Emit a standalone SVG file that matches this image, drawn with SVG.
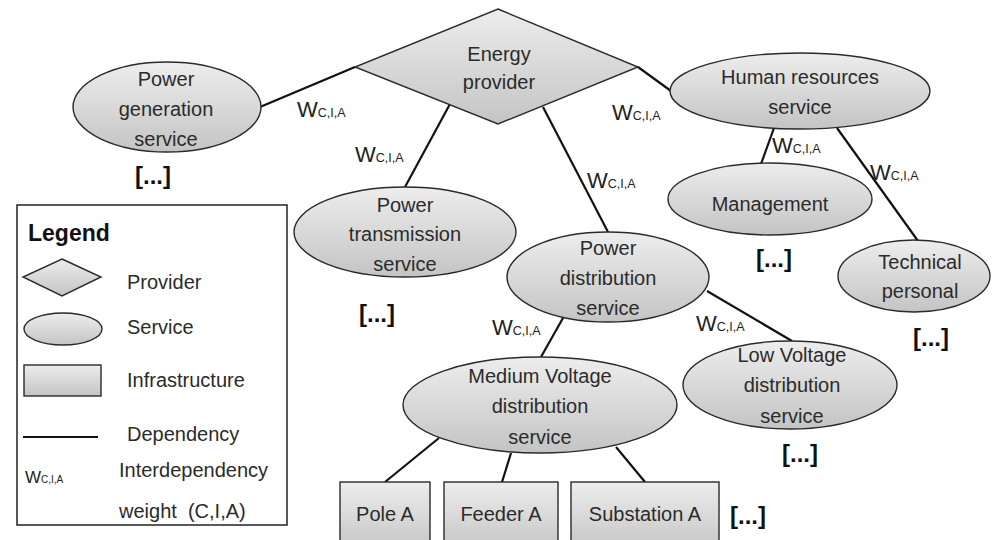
<svg xmlns="http://www.w3.org/2000/svg" width="992" height="540" viewBox="0 0 992 540">
  <defs>
    <linearGradient id="shade" x1="0" y1="0" x2="0" y2="1">
      <stop offset="0" stop-color="#ededed"/>
      <stop offset="1" stop-color="#c4c4c4"/>
    </linearGradient>
    <style>
      .shape { fill: url(#shade); stroke: #2a2a2a; stroke-width: 1.4; }
      .edge { stroke: #111; stroke-width: 2.2; fill: none; }
      .lbl { font-family: "Liberation Sans", Arial, sans-serif; font-size: 20px; fill: #2b2b2b; text-anchor: middle; }
      .w { font-family: "Liberation Sans", Arial, sans-serif; font-size: 22px; fill: #222; }
      .w .sub { font-size: 12.5px; }
      .more { font-family: "Liberation Sans", Arial, sans-serif; font-size: 24px; font-weight: bold; fill: #111; text-anchor: middle; }
      .leg { font-family: "Liberation Sans", Arial, sans-serif; font-size: 20px; fill: #2b2b2b; }
    </style>
  </defs>
  <rect width="992" height="540" fill="#fff"/>

  <!-- dependencies -->
  <g id="connectors">
    <line class="edge" x1="355" y1="67" x2="260" y2="107"/>
    <line class="edge" x1="450" y1="104" x2="405" y2="187"/>
    <line class="edge" x1="543" y1="107" x2="608" y2="232"/>
    <line class="edge" x1="638" y1="67" x2="671" y2="91"/>
    <line class="edge" x1="774" y1="128" x2="761" y2="164"/>
    <line class="edge" x1="837" y1="128" x2="918" y2="241"/>
    <line class="edge" x1="563" y1="318" x2="541" y2="357"/>
    <line class="edge" x1="707" y1="291" x2="792" y2="341"/>
    <line class="edge" x1="439" y1="438" x2="385" y2="482"/>
    <line class="edge" x1="511" y1="453" x2="502" y2="482"/>
    <line class="edge" x1="616" y1="447" x2="645" y2="482"/>
  </g>

  <!-- interdependency weights -->
  <g id="weights">
    <text class="w" x="297" y="117">W<tspan class="sub">C,I,A</tspan></text>
    <text class="w" x="355" y="162">W<tspan class="sub">C,I,A</tspan></text>
    <text class="w" x="612" y="120">W<tspan class="sub">C,I,A</tspan></text>
    <text class="w" x="587" y="188">W<tspan class="sub">C,I,A</tspan></text>
    <text class="w" x="772" y="153">W<tspan class="sub">C,I,A</tspan></text>
    <text class="w" x="870" y="180">W<tspan class="sub">C,I,A</tspan></text>
    <text class="w" x="492" y="335">W<tspan class="sub">C,I,A</tspan></text>
    <text class="w" x="696" y="331">W<tspan class="sub">C,I,A</tspan></text>
  </g>

  <g id="energy-provider">
    <polygon class="shape" points="498,9 638,67 498,124 355,67"/>
    <text class="lbl" x="499" y="61">Energy</text>
    <text class="lbl" x="499" y="89">provider</text>
  </g>

  <g id="power-generation">
    <ellipse class="shape" cx="167" cy="107" rx="94" ry="45"/>
    <text class="lbl" x="166" y="86">Power</text>
    <text class="lbl" x="166" y="116">generation</text>
    <text class="lbl" x="166" y="146">service</text>
  </g>

  <g id="power-transmission">
    <ellipse class="shape" cx="405" cy="232" rx="111" ry="45"/>
    <text class="lbl" x="405" y="212">Power</text>
    <text class="lbl" x="405" y="241">transmission</text>
    <text class="lbl" x="405" y="271">service</text>
  </g>

  <g id="power-distribution">
    <ellipse class="shape" cx="608" cy="277" rx="101" ry="45"/>
    <text class="lbl" x="608" y="255">Power</text>
    <text class="lbl" x="608" y="285">distribution</text>
    <text class="lbl" x="608" y="315">service</text>
  </g>

  <g id="human-resources">
    <ellipse class="shape" cx="800" cy="91" rx="130" ry="38"/>
    <text class="lbl" x="800" y="84">Human resources</text>
    <text class="lbl" x="800" y="114">service</text>
  </g>

  <g id="management">
    <ellipse class="shape" cx="770" cy="199" rx="102" ry="36"/>
    <text class="lbl" x="770" y="211">Management</text>
  </g>

  <g id="technical-personal">
    <ellipse class="shape" cx="914" cy="276" rx="76" ry="36"/>
    <text class="lbl" x="920" y="269">Technical</text>
    <text class="lbl" x="920" y="298">personal</text>
  </g>

  <g id="low-voltage">
    <ellipse class="shape" cx="790" cy="385" rx="107" ry="44"/>
    <text class="lbl" x="792" y="362">Low Voltage</text>
    <text class="lbl" x="792" y="392">distribution</text>
    <text class="lbl" x="792" y="423">service</text>
  </g>

  <g id="medium-voltage">
    <ellipse class="shape" cx="540" cy="405" rx="137" ry="48"/>
    <text class="lbl" x="540" y="383">Medium Voltage</text>
    <text class="lbl" x="540" y="413">distribution</text>
    <text class="lbl" x="540" y="444">service</text>
  </g>

  <g id="pole-a">
    <rect class="shape" x="340" y="482" width="90" height="70"/>
    <text class="lbl" x="385" y="521">Pole A</text>
  </g>
  <g id="feeder-a">
    <rect class="shape" x="444" y="482" width="114" height="70"/>
    <text class="lbl" x="501" y="521">Feeder A</text>
  </g>
  <g id="substation-a">
    <rect class="shape" x="571" y="482" width="148" height="70"/>
    <text class="lbl" x="645" y="521">Substation A</text>
  </g>

  <!-- elided subtrees -->
  <g id="ellipses">
    <text class="more" x="153" y="184">[...]</text>
    <text class="more" x="377" y="322">[...]</text>
    <text class="more" x="774" y="267">[...]</text>
    <text class="more" x="931" y="346">[...]</text>
    <text class="more" x="800" y="462">[...]</text>
    <text class="more" x="748" y="524">[...]</text>
  </g>

  <g id="legend">
    <rect x="17" y="205" width="270" height="320" fill="#fff" stroke="#222" stroke-width="1.5"/>
    <text x="28" y="241" font-family="'Liberation Sans', Arial, sans-serif" font-size="23" font-weight="bold" fill="#111">Legend</text>
    <polygon class="shape" points="62,259 101,277 62,296 23,277"/>
    <text class="leg" x="127" y="289">Provider</text>
    <ellipse class="shape" cx="63" cy="329" rx="39" ry="16"/>
    <text class="leg" x="127" y="334">Service</text>
    <rect class="shape" x="24" y="365" width="77" height="31"/>
    <text class="leg" x="127" y="387">Infrastructure</text>
    <line class="edge" x1="23" y1="437" x2="98" y2="437"/>
    <text class="leg" x="127" y="441">Dependency</text>
    <text class="w" x="25" y="483" style="font-size:17px">W<tspan class="sub" style="font-size:10px">C,I,A</tspan></text>
    <text class="leg" x="119" y="477">Interdependency</text>
    <text class="leg" x="119" y="518" xml:space="preserve">weight  (C,I,A)</text>
  </g>
</svg>
